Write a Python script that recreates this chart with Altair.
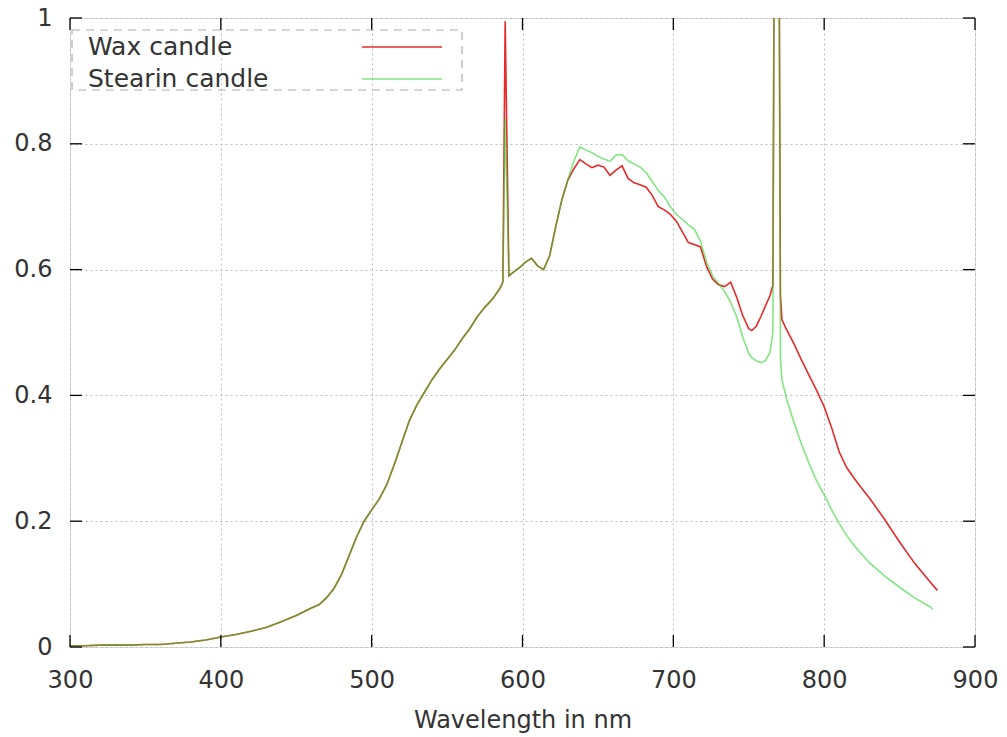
import altair as alt
import pandas as pd

# ---- data ----
common_nm = [300, 310, 320, 330, 340, 350, 360, 370, 380, 390, 400, 410, 420, 430, 440,
             450, 460, 465, 470, 475, 480, 485, 490, 495, 500, 505, 510, 515, 520, 525,
             530, 535, 540, 545, 550, 555, 560, 565, 570, 575, 580, 585, 587]
common_val = [0.002, 0.002, 0.003, 0.003, 0.003, 0.004, 0.004, 0.006, 0.008, 0.011, 0.016,
              0.020, 0.025, 0.031, 0.040, 0.050, 0.062, 0.067, 0.078, 0.093, 0.115, 0.145,
              0.175, 0.200, 0.218, 0.235, 0.258, 0.290, 0.325, 0.360, 0.385, 0.405, 0.425,
              0.442, 0.457, 0.472, 0.490, 0.506, 0.525, 0.540, 0.553, 0.570, 0.580]

mid_nm = [591, 594, 598, 602, 606, 610, 614, 618, 622, 626, 630]
mid_val = [0.590, 0.596, 0.603, 0.612, 0.618, 0.606, 0.600, 0.622, 0.668, 0.710, 0.742]

na_nm = [588.5]
wax_na = [0.995]
stearin_na = [0.84]

wax_nm = [634, 638, 642, 646, 650, 654, 658, 662, 666, 670, 674, 678, 682, 686, 690, 694,
          698, 702, 706, 710, 714, 718, 722, 726, 730, 734, 738, 742, 746, 750, 752, 755,
          758, 761, 764, 766, 767, 770, 771, 772, 775, 780, 785, 790, 795, 800, 805, 810,
          815, 820, 825, 830, 840, 850, 860, 870, 875]
wax_val = [0.760, 0.775, 0.768, 0.762, 0.766, 0.763, 0.750, 0.758, 0.765, 0.745, 0.738,
           0.735, 0.731, 0.718, 0.700, 0.695, 0.688, 0.677, 0.660, 0.643, 0.640, 0.636,
           0.605, 0.585, 0.576, 0.573, 0.580, 0.556, 0.527, 0.506, 0.503, 0.510, 0.525,
           0.542, 0.558, 0.575, 1.2, 1.2, 0.56, 0.52, 0.505, 0.482, 0.456, 0.432, 0.408,
           0.382, 0.348, 0.310, 0.285, 0.268, 0.252, 0.237, 0.203, 0.167, 0.133, 0.104, 0.090]

stearin_nm = [634, 638, 642, 646, 650, 654, 658, 662, 666, 670, 674, 678, 682, 686, 690, 694,
              698, 702, 706, 710, 714, 718, 722, 726, 730, 734, 738, 742, 746, 750, 752, 755,
              758, 761, 764, 766, 767, 770, 771, 772, 775, 780, 785, 790, 795, 800, 805, 810,
              815, 820, 825, 830, 840, 850, 860, 870, 872]
stearin_val = [0.772, 0.795, 0.790, 0.786, 0.780, 0.776, 0.772, 0.782, 0.783, 0.773, 0.768,
               0.763, 0.754, 0.740, 0.726, 0.716, 0.700, 0.688, 0.680, 0.671, 0.664, 0.645,
               0.612, 0.590, 0.578, 0.565, 0.548, 0.525, 0.493, 0.467, 0.460, 0.455, 0.452,
               0.455, 0.468, 0.500, 1.2, 1.2, 0.46, 0.425, 0.395, 0.357, 0.322, 0.292, 0.264,
               0.242, 0.218, 0.196, 0.177, 0.161, 0.147, 0.134, 0.113, 0.095, 0.078, 0.064, 0.060]

series_names = ["Wax candle", "Stearin candle"]
series_colors = ["#e62a2a", "#2fd62f"]
series_opacity = [1.0, 0.6]
x_ticks = [300, 400, 500, 600, 700, 800, 900]
y_ticks = [0, 0.2, 0.4, 0.6, 0.8, 1]

# ---- build tables ----
wax_df = pd.DataFrame({"nm": common_nm + na_nm + mid_nm + wax_nm,
                       "value": common_val + wax_na + mid_val + wax_val})
stearin_df = pd.DataFrame({"nm": common_nm + na_nm + mid_nm + stearin_nm,
                           "value": common_val + stearin_na + mid_val + stearin_val})

W, H = 905, 629
FONT = "DejaVu Sans"
TXT = "#333333"

xscale = alt.Scale(domain=[300, 900], nice=False, zero=False)
yscale = alt.Scale(domain=[0, 1], nice=False)

x_axis = alt.Axis(values=x_ticks, title="Wavelength in nm", format="d",
                  grid=True, gridColor="#bdbdbd", gridDash=[2, 3],
                  ticks=False, tickSize=0, domain=False,
                  labelFlush=False, labelOverlap=False, labelBound=False,
                  labelFont=FONT, labelFontSize=24, labelColor=TXT,
                  labelPadding=21, titleFont=FONT, titleFontSize=24,
                  titleFontWeight="normal", titleColor=TXT,
                  titleBaseline="middle", titleY=73)
y_axis = alt.Axis(values=y_ticks, title=None, format="~g",
                  grid=True, gridColor="#bdbdbd", gridDash=[2, 3],
                  ticks=False, tickSize=0, domain=False,
                  labelFlush=False, labelOverlap=False, labelBound=False,
                  labelFont=FONT, labelFontSize=24, labelColor=TXT,
                  labelPadding=18)

wax_line = alt.Chart(wax_df).mark_line(
    strokeWidth=1.6, clip=True, color=series_colors[0], opacity=series_opacity[0]
).encode(
    x=alt.X("nm:Q", scale=xscale, axis=x_axis),
    y=alt.Y("value:Q", scale=yscale, axis=y_axis),
)
stearin_line = alt.Chart(stearin_df).mark_line(
    strokeWidth=1.6, clip=True, color=series_colors[1], opacity=series_opacity[1]
).encode(
    x=alt.X("nm:Q", scale=xscale),
    y=alt.Y("value:Q", scale=yscale),
)

xt = pd.DataFrame({"nm": x_ticks})
yt = pd.DataFrame({"value": y_ticks})
TL = 12
tick_bottom = alt.Chart(xt).mark_rule(color="black", strokeWidth=1.3).encode(
    x=alt.X("nm:Q", scale=xscale), y=alt.value(H), y2=alt.value(H - TL))
tick_top = alt.Chart(xt).mark_rule(color="black", strokeWidth=1.3).encode(
    x=alt.X("nm:Q", scale=xscale), y=alt.value(0), y2=alt.value(TL))
tick_left = alt.Chart(yt).mark_rule(color="black", strokeWidth=1.3).encode(
    y=alt.Y("value:Q", scale=yscale), x=alt.value(0), x2=alt.value(TL))
tick_right = alt.Chart(yt).mark_rule(color="black", strokeWidth=1.3).encode(
    y=alt.Y("value:Q", scale=yscale), x=alt.value(W), x2=alt.value(W - TL))

# ---- key (gnuplot style: label left, sample right) ----
one = pd.DataFrame({"a": [0]})
key_box = alt.Chart(one).mark_rect(
    fill="white", fillOpacity=0, stroke="#b9a9a9", strokeDash=[8, 6], strokeWidth=1.2
).encode(x=alt.value(2), x2=alt.value(392), y=alt.value(12), y2=alt.value(72))

key_layers = []
for i, (name, col, op) in enumerate(zip(series_names, series_colors, series_opacity)):
    yy = 29 + 32 * i
    key_layers.append(
        alt.Chart(one).mark_text(
            align="left", baseline="middle", font=FONT, fontSize=25, color=TXT, text=name
        ).encode(x=alt.value(18), y=alt.value(yy))
    )
    key_layers.append(
        alt.Chart(one).mark_rule(strokeWidth=1.6, color=col, opacity=op).encode(
            x=alt.value(292), x2=alt.value(372), y=alt.value(yy))
    )

chart = alt.layer(
    wax_line, stearin_line, tick_bottom, tick_top, tick_left, tick_right, key_box, *key_layers
).properties(
    width=W, height=H,
    autosize=alt.AutoSizeParams(type="none"),
    padding={"left": 62, "top": 10, "right": 24, "bottom": 90},
).configure_view(stroke="black", strokeWidth=2.2).configure(background="white")

chart.save("out.html", embed_options={"renderer": "svg", "actions": False})
